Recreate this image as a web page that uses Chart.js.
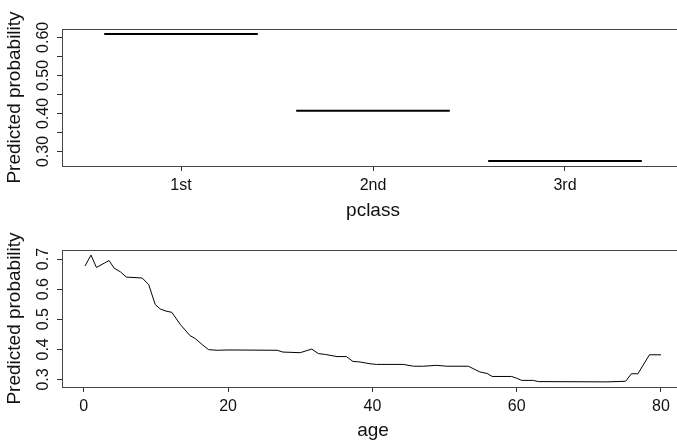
<!DOCTYPE html>
<html lang="en">
<head>
  <meta charset="UTF-8">
  <title>Predicted probability by pclass and age</title>
  <script src="https://cdn.jsdelivr.net/npm/chart.js"></script>
  <style>
    * { margin: 0; padding: 0; box-sizing: border-box; }
    html, body { width: 677px; height: 445px; overflow: hidden; background: #fff; }
    canvas { display: block; }
  </style>
</head>
<body>
  <canvas id="classChart" width="690" height="222"></canvas>
  <canvas id="ageChart" width="690" height="223"></canvas>

  <script>
    // top panel: pclass
    const classes = ['1st', '2nd', '3rd'];
    const classProbs = [0.609, 0.407, 0.275];
    const classYTicks = [0.30, 0.35, 0.40, 0.45, 0.50, 0.55, 0.60];
    const classYLabels = ['0.30', '0.40', '0.50', '0.60'];

    // bottom panel: age
    const ages = [0.17, 1, 1.75, 3.5, 4.2, 5.1, 5.9, 8.1, 9, 9.9, 10.6, 11.4, 12.2, 13.4, 14.7, 15.5,
      16.4, 17.3, 18.5, 20, 26.8, 27.6, 30, 31.6, 32.5, 33.5, 35.1, 36.4, 37.3, 38.3, 39.7, 40.6,
      44.3, 45.7, 47.1, 48.9, 50.3, 53.3, 54.9, 55.9, 56.6, 59.3, 60, 60.7, 62.3, 63, 72.5, 75.1,
      75.9, 76.8, 78.4, 80];
    const ageProbs = [0.677, 0.713, 0.672, 0.695, 0.670, 0.657, 0.640, 0.637, 0.615, 0.549, 0.534, 0.527,
      0.523, 0.482, 0.446, 0.435, 0.416, 0.399, 0.397, 0.398, 0.397, 0.391, 0.389, 0.401, 0.386, 0.383,
      0.376, 0.376, 0.360, 0.358, 0.352, 0.350, 0.350, 0.344, 0.344, 0.347, 0.344, 0.344, 0.325, 0.320,
      0.310, 0.310, 0.304, 0.297, 0.297, 0.293, 0.292, 0.294, 0.319, 0.319, 0.382, 0.382];
    const ageXTicks = [0, 20, 40, 60, 80];
    const ageYTicks = [0.3, 0.4, 0.5, 0.6, 0.7];

    const family = "'Liberation Sans', Arial, Helvetica, sans-serif";

    // R-style box round the plot region
    const boxPlugin = {
      id: 'box',
      afterDraw(chart) {
        const { ctx, chartArea: a } = chart;
        ctx.save();
        ctx.strokeStyle = '#444';
        ctx.lineWidth = 1;
        ctx.strokeRect(Math.round(a.left) + 0.5, Math.round(a.top) + 0.5,
          Math.round(a.right - a.left), Math.round(a.bottom - a.top));
        ctx.restore();
      }
    };

    const tickGrid = {
      display: true,
      drawOnChartArea: false,
      drawTicks: true,
      tickLength: 5,
      tickColor: '#333',
      lineWidth: 1
    };

    function yAxis(min, max, ticks, labels, digits, pad) {
      return {
        type: 'linear',
        min: min,
        max: max,
        afterBuildTicks: s => { s.ticks = ticks.map(v => ({ value: v })); },
        afterFit: s => { s.width = 62; },
        grid: tickGrid,
        border: { display: false },
        ticks: {
          autoSkip: false,
          minRotation: 90,
          maxRotation: 90,
          crossAlign: 'center',
          padding: pad,
          color: '#111',
          font: { family: family, size: 16 },
          callback: v => {
            const t = v.toFixed(digits);
            return labels.includes(t) ? t : '';
          }
        },
        title: {
          display: true,
          text: 'Predicted probability',
          color: '#111',
          font: { family: family, size: 19 },
          padding: { top: 3, bottom: 0 }
        }
      };
    }

    function xAxis(min, max, ticks, fmt, height, title, titlePad) {
      return {
        type: 'linear',
        min: min,
        max: max,
        afterBuildTicks: s => { s.ticks = ticks.map(v => ({ value: v })); },
        afterFit: s => { s.height = height; },
        grid: tickGrid,
        border: { display: false },
        ticks: {
          autoSkip: false,
          maxRotation: 0,
          padding: 5,
          color: '#111',
          font: { family: family, size: 16 },
          callback: fmt
        },
        title: {
          display: true,
          text: title,
          color: '#111',
          font: { family: family, size: 19 },
          padding: { top: 0, bottom: titlePad }
        }
      };
    }

    const common = {
      responsive: false,
      animation: false,
      devicePixelRatio: 1,
      plugins: { legend: { display: false }, tooltip: { enabled: false } },
      elements: { point: { radius: 0 } }
    };

    new Chart(document.getElementById('classChart'), {
      type: 'line',
      data: {
        datasets: classes.map((c, i) => ({
          label: c,
          data: [{ x: i + 1 - 0.4, y: classProbs[i] }, { x: i + 1 + 0.4, y: classProbs[i] }],
          borderColor: '#000',
          borderWidth: 2
        }))
      },
      options: {
        ...common,
        layout: { padding: { top: 29, right: 6, left: 0, bottom: 0 } },
        scales: {
          x: xAxis(0.38, 3.62, [1, 2, 3], v => classes[v - 1], 56, 'pclass', 0),
          y: yAxis(0.262, 0.622, classYTicks, classYLabels, 2, -2)
        }
      },
      plugins: [boxPlugin]
    });

    new Chart(document.getElementById('ageChart'), {
      type: 'line',
      data: {
        datasets: [{
          label: 'age',
          data: ages.map((a, i) => ({ x: a, y: ageProbs[i] })),
          borderColor: '#000',
          borderWidth: 1
        }]
      },
      options: {
        ...common,
        layout: { padding: { top: 28, right: 6, left: 0, bottom: 0 } },
        scales: {
          x: xAxis(-3.02, 83.19, ageXTicks, v => String(v), 58, 'age', 3),
          y: yAxis(0.275, 0.730, ageYTicks, ageYTicks.map(v => v.toFixed(1)), 1, 2)
        }
      },
      plugins: [boxPlugin]
    });
  </script>
</body>
</html>
